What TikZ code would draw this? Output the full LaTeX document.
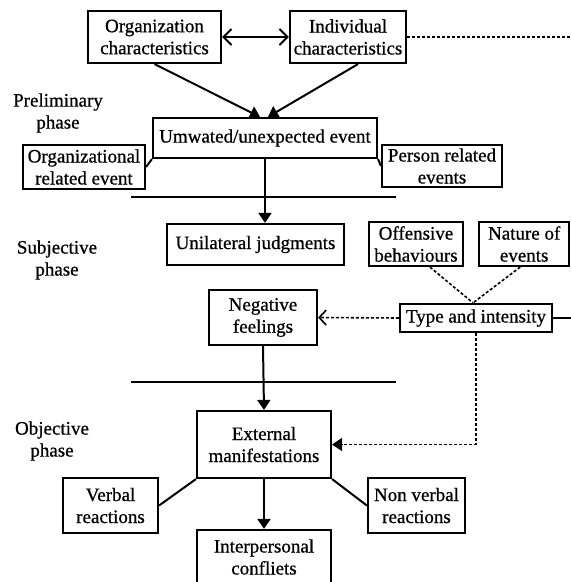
\documentclass[tikz,border=0pt]{standalone}
\usepackage{fontspec}
\setmainfont{Liberation Serif}
\newfontfamily\diagfont{Liberation Serif}[FakeBold=0.7]
\usetikzlibrary{arrows.meta,positioning}

\begin{document}
\begin{tikzpicture}[x=1pt,y=-1pt,
	box/.style={draw,line width=2.2pt,align=center,inner sep=0pt,font=\diagfont\fontsize{19}{22}\selectfont},
	phase/.style={align=center,font=\diagfont\fontsize{19}{22}\selectfont},
	link/.style={line width=2pt},
	dlink/.style={line width=1.6pt,densely dashed},
	>={Triangle[length=10pt,width=13pt]}]
	
	\useasboundingbox (0,0) rectangle (571,582);
	
	% preliminary phase
	\node[box,minimum width=133pt,minimum height=52pt] (org) at (154.5,37) {Organization\\characteristics};
	\node[box,minimum width=116pt,minimum height=52pt] (ind) at (348,37) {Individual\\characteristics};
	\node[phase] (prelim) at (58,113) {Preliminary\\phase};
	\node[box,minimum width=224pt,minimum height=40pt] (unw) at (265,138) {Umwated/unexpected event};
	\node[box,minimum width=122pt,minimum height=44pt] (orgev) at (84,167) {Organizational\\related event};
	\node[box,minimum width=120pt,minimum height=42pt] (perev) at (442,166) {Person related\\events};
	
	% subjective phase
	\node[phase] (subj) at (57,260) {Subjective\\phase};
	\node[box,minimum width=177pt,minimum height=41pt] (unil) at (255.5,244.5) {Unilateral judgments};
	\node[box,minimum width=94pt,minimum height=44pt] (off) at (416,244) {Offensive\\behaviours};
	\node[box,minimum width=90pt,minimum height=44pt] (nat) [right=14pt of off] {Nature of\\events};
	\node[box,minimum width=152pt,minimum height=28pt] (typ) at (476,318) {Type and intensity};
	\node[box,minimum width=108pt,minimum height=55pt] (neg) at (263,317.5) {Negative\\feelings};
	
	% objective phase
	\node[phase] (obj) at (52,441) {Objective\\phase};
	\node[box,minimum width=134pt,minimum height=67pt] (ext) at (264,444.5) {External\\manifestations};
	\node[box,minimum width=95pt,minimum height=55pt] (verb) at (110.5,505.5) {Verbal\\reactions};
	\node[box,minimum width=97pt,minimum height=55pt] (nonv) at (416.5,505.5) {Non verbal\\reactions};
	\node[box,minimum width=134pt,minimum height=54pt] (intp) at (264,557) {Interpersonal\\confliets};
	
	\coordinate (indend) at (571,37);
	\coordinate (typend) at (571,318);
	
	% phase separators
	\draw[link] (131,197) -- (396,197);
	\draw[link] (131,382) -- (396,382);
	
	\draw[link,{Straight Barb[length=8pt,width=16pt]}-{Straight Barb[length=8pt,width=16pt]}] (org) -- (ind);
	\draw[dlink] (ind.east) -- (indend);
	\draw[link,->] (org.south) -- ([xshift=-5pt]unw.north);
	\draw[link,->] ([xshift=10pt]ind.south) -- ([xshift=3pt]unw.north);
	\draw[link] (unw.south west) -- (orgev.east);
	\draw[link] (unw.south east) -- (perev.west);
	\draw[link,->] (unw.south) -- (unw.south |- unil.north);
	
	\draw[dlink] ([xshift=14pt]off.south) -- ([xshift=-3pt]typ.north);
	\draw[dlink] ([xshift=-4pt]nat.south) -- ([xshift=-3pt]typ.north);
	\draw[link] (typ.east) -- (typend);
	\draw[dlink,-{Straight Barb[length=7pt,width=15pt]}] (typ.west) -- (neg.east);
	\draw[dlink,->] (typ.south) |- (ext.east);
	\draw[link,->] (neg.south) -- (ext.north);
	
	\draw[link] (ext.south west) -- (verb.east);
	\draw[link] (ext.south east) -- (nonv.west);
	\draw[link,->] (ext.south) -- (intp.north);
\end{tikzpicture}
\end{document}
